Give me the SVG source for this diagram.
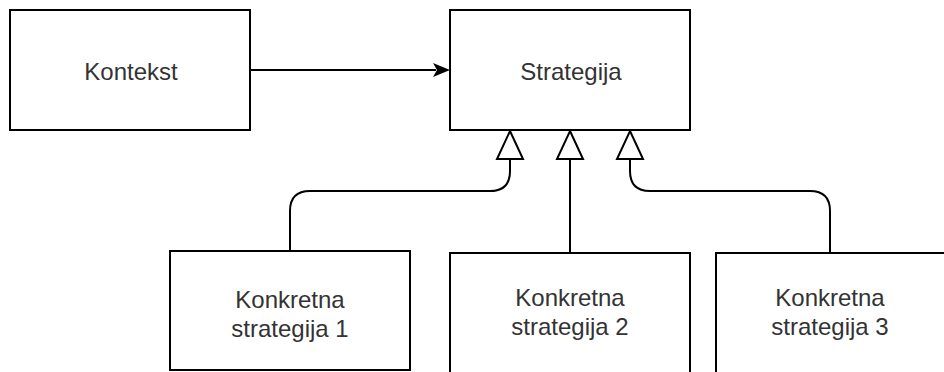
<svg xmlns="http://www.w3.org/2000/svg" width="944" height="372" viewBox="0 0 944 372">
<style>
.box{fill:#ffffff;stroke:#000000;stroke-width:2}
.lbl{font-family:"Liberation Sans",Arial,Helvetica,sans-serif;font-size:24px;fill:#333333;text-anchor:middle}
.edge{fill:none;stroke:#000000;stroke-width:2}
.tri{fill:#ffffff;stroke:#000000;stroke-width:2;stroke-linejoin:miter}
</style>
<defs>
<marker id="classic" markerUnits="userSpaceOnUse" markerWidth="20" markerHeight="16" refX="17" refY="7" orient="auto" viewBox="0 0 20 16">
<path d="M17,7 L0,14 L4,7 L0,0 Z" fill="#000000"/>
</marker>
</defs>
<rect width="944" height="372" fill="#ffffff"/>
<g id="connectors">
<path class="edge" d="M250,70 L436,70" />
<path d="M450,70 L433,77 L437,70 L433,63 Z" fill="#000000"/>
<path class="edge" d="M290,251 L290,211 Q290,191 310,191 L490,191 Q510,191 510,171 L510,159"/>
<path class="edge" d="M570,253 L570,159"/>
<path class="edge" d="M830,253 L830,211 Q830,191 810,191 L650,191 Q630,191 630,171 L630,159"/>
<path class="tri" d="M510,131 L523,159 L497,159 Z"/>
<path class="tri" d="M570,131 L583,159 L557,159 Z"/>
<path class="tri" d="M630,131 L643,159 L617,159 Z"/>
</g>
<g id="kontekst">
<rect class="box" x="10" y="10" width="240" height="120"/>
<text class="lbl" x="131" y="80">Kontekst</text>
</g>
<g id="strategija">
<rect class="box" x="450" y="10" width="240" height="120"/>
<text class="lbl" x="571" y="80">Strategija</text>
</g>
<g id="konkretna1">
<rect class="box" x="170" y="251" width="240" height="119"/>
<text class="lbl" x="290" y="308">Konkretna</text>
<text class="lbl" x="290" y="337">strategija 1</text>
</g>
<g id="konkretna2">
<rect class="box" x="450" y="253" width="240" height="120"/>
<text class="lbl" x="570" y="306">Konkretna</text>
<text class="lbl" x="570" y="335">strategija 2</text>
</g>
<g id="konkretna3">
<rect class="box" x="716" y="253" width="240" height="120"/>
<text class="lbl" x="830" y="306">Konkretna</text>
<text class="lbl" x="830" y="335">strategija 3</text>
</g>
</svg>
